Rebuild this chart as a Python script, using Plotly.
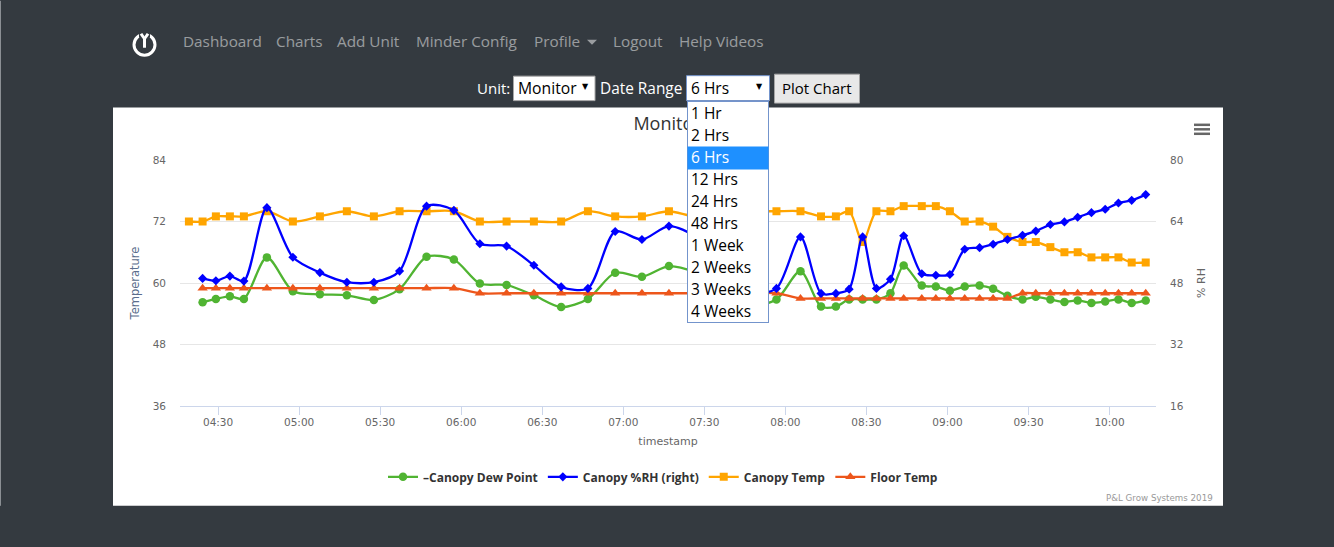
import plotly.graph_objects as go

# ---- data ----
times_clock = [
    "04:19:12","04:24:16","04:29:11","04:34:22","04:39:33","04:48:04","04:57:41","05:07:41","05:17:40","05:27:40",
    "05:37:11","05:47:10","05:57:17","06:06:54","06:16:48","06:26:54","06:37:00","06:46:54","06:57:00","07:06:54",
    "07:16:54","07:26:54","07:36:48","07:46:48","07:56:42","08:05:36","08:13:12","08:18:42","08:23:36","08:28:36",
    "08:33:42","08:38:54","08:43:48","08:50:30","08:55:42","09:00:54","09:06:24","09:11:54","09:16:54","09:22:12",
    "09:27:48","09:32:42","09:38:06","09:43:18","09:48:12","09:53:18","09:58:24","10:03:18","10:08:12","10:13:24"]
canopy_temp = [72,72,73,73,73,74,72,73,74,73,74,74,74,72,72,72,72,74,73,73,74,73,74,74,
               74,74,73,73,74,68,74,74,75,75,75,74,72,72,71,69,68,68,67,66,66,65,65,65,64,64]
dew_point = [56.25,56.9,57.4,56.9,65,58.4,57.8,57.6,56.7,58.8,65.1,64.6,59.9,59.6,
             57.6,55.3,56.9,62,61.2,63.3,62.1,59.6,55.7,
             56.8,62.3,55.4,55.4,56.8,56.8,56.8,58,63.4,59.5,59.3,58.5,59.3,59.5,58.9,57.5,
             56.8,57.3,56.8,56.3,56.6,56.1,56.4,56.8,56.1,56.6]
canopy_rh = [49.2,48.6,49.8,48.5,67.6,54.7,50.7,48.2,48.2,51.1,68,66.9,58.2,57.6,
             52.6,47,46.6,61.4,59.3,62.8,60,52,45.5,
             46.6,60,45.3,45.3,46.4,60,46.6,49,60.3,50.4,50,50.2,56.8,57.2,58.1,59.3,
             60.4,61.5,63.2,63.9,65.1,66.3,67.2,68.8,69.5,71]
floor_temp = [59,59,59,59,59,59,59,59,59,59,59,59,58,58,58,58,58,58,58,58,58,58,58,
              58,57,57,57,57,57,57,57,57,57,57,57,57,57,57,57,58,58,58,58,58,58,58,58,58,58]
nav_labels = ["Dashboard","Charts","Add Unit","Minder Config","Profile","Logout","Help Videos"]
range_options = ["1 Hr","2 Hrs","6 Hrs","12 Hrs","24 Hrs","48 Hrs","1 Week","2 Weeks","3 Weeks","4 Weeks"]
left_ticks = [36,48,60,72,84]
right_ticks = [16,32,48,64,80]
time_ticks = ["04:30","05:00","05:30","06:00","06:30","07:00","07:30","08:00","08:30","09:00","09:30","10:00"]

DAY = "2019-03-01 "
times = [DAY + t for t in times_clock]
tick_vals = [DAY + t + ":00" for t in time_ticks]

# ---- page geometry ----
W, H = 1334, 547
PL, PR, PT, PB = 180, 1156, 159.5, 406
DARK = "#343a40"
CHART_FONT = "DejaVu Sans"
UI_FONT = "Open Sans"

def px(x): return (x - PL) / (PR - PL)
def py(y): return (PB - y) / (PB - PT)

def rect(x0, y0, x1, y1, fill, line=None, lw=1, layer="below"):
    return dict(type="rect", xref="paper", yref="paper", x0=px(x0), x1=px(x1), y0=py(y0), y1=py(y1),
                fillcolor=fill, line=dict(color=line or fill, width=lw if line else 0), layer=layer)

def seg(x0, y0, x1, y1, color, lw, layer="above"):
    return dict(type="line", xref="paper", yref="paper", x0=px(x0), x1=px(x1), y0=py(y0), y1=py(y1),
                line=dict(color=color, width=lw), layer=layer)

def label(x, y, text, size=16, color="#000", anchor="left", font=UI_FONT, **kw):
    return dict(xref="paper", yref="paper", x=px(x), y=py(y), text=text, showarrow=False,
                xanchor=anchor, yanchor="middle", font=dict(family=font, size=size, color=color), **kw)

caret = dict(type="path", xref="paper", yref="paper",
             path=f"M {px(587)} {py(39)} L {px(597)} {py(39)} L {px(592)} {py(44)} Z",
             fillcolor="rgba(255,255,255,0.5)", line=dict(width=0), layer="below")

shapes = [
    rect(113, 107, 1223, 506, "#ffffff"),
    seg(0.5, 0, 0.5, 506, "#8b8f94", 1, "below"),
    # logo
    dict(type="circle", xref="paper", yref="paper", x0=px(134), x1=px(155), y0=py(33.5), y1=py(54.5),
         line=dict(color="#ffffff", width=3), fillcolor="rgba(0,0,0,0)", layer="below"),
    rect(139, 30, 150, 37, DARK, layer="below"),
    seg(144.5, 38, 144.5, 47, "#ffffff", 3),
    seg(144.5, 38, 141, 33, "#ffffff", 3),
    seg(144.5, 38, 148, 33, "#ffffff", 3),
    caret,
    # form controls
    rect(513.5, 75.5, 595, 100, "#ffffff", "#a9a9a9"),
    rect(686.5, 75, 769.5, 100, "#ffffff", "#7394cc"),
    rect(774.5, 73.5, 859.5, 102.5, "#e8e8e8", "#a6a6a6"),
    # hamburger
    rect(1194, 123, 1210, 125.5, "#666666", layer="above"),
    rect(1194, 127.5, 1210, 130, "#666666", layer="above"),
    rect(1194, 132, 1210, 134.5, "#666666", layer="above"),
]

nav_x = [181, 274, 335, 414, 532, 611, 677]
annotations = [label(x, 40.5, t, 15.3, "rgba(255,255,255,0.5)") for x, t in zip(nav_x, nav_labels)]
annotations += [
    label(475, 87.5, "Unit:", 15, "#ffffff"),
    label(516, 87.5, "Monitor", 15.7, "#000000"),
    label(585, 86, "▼", 8, "#000000", "center", "DejaVu Sans"),
    label(598, 87.5, "Date Range", 15.4, "#ffffff"),
    label(689, 87.5, "6 Hrs", 15.5, "#000000"),
    label(759, 86, "▼", 8, "#000000", "center", "DejaVu Sans"),
    label(817, 87.5, "Plot Chart", 15, "#000000", "center"),
    label(1215, 498, "P&L Grow Systems 2019", 8.7, "#999999", "right", CHART_FONT),
    # dropdown list, painted over the chart and its title
    dict(xref="paper", yref="paper", x=px(727.5), y=py(211.5), text=" ", showarrow=False,
         width=80, height=220, bgcolor="#ffffff", bordercolor="#7394cc", borderwidth=1, borderpad=0,
         xanchor="center", yanchor="middle"),
]
for i, opt in enumerate(range_options):
    yc = 112.5 + 22 * i
    if i == 2:
        annotations.append(dict(xref="paper", yref="paper", x=px(727.5), y=py(yc + 0.5), text=" ", showarrow=False,
                                width=80, height=22, bgcolor="#1e90ff", borderpad=0,
                                xanchor="center", yanchor="middle"))
    annotations.append(label(689, yc, opt, 15.5, "#ffffff" if i == 2 else "#000000"))

fig = go.Figure()
common = dict(mode="lines+markers", line_shape="spline")
fig.add_trace(go.Scatter(x=times[1:], y=dew_point, name="–Canopy Dew Point", yaxis="y", **common,
                         line=dict(color="#50B432", width=2.3, smoothing=0.8),
                         marker=dict(symbol="circle", size=8.5, color="#50B432")))
fig.add_trace(go.Scatter(x=times[1:], y=canopy_rh, name="Canopy %RH (right)", yaxis="y2", **common,
                         line=dict(color="#0000ff", width=2.3, smoothing=0.8),
                         marker=dict(symbol="diamond", size=7, color="#0000ff")))
fig.add_trace(go.Scatter(x=times, y=canopy_temp, name="Canopy Temp", yaxis="y", **common,
                         line=dict(color="#ffa500", width=2.3, smoothing=0.8),
                         marker=dict(symbol="square", size=8, color="#ffa500")))
fig.add_trace(go.Scatter(x=times[1:], y=floor_temp, name="Floor Temp", yaxis="y", **common,
                         line=dict(color="#ED561B", width=2.3, smoothing=0.8),
                         marker=dict(symbol="triangle-up", size=9, color="#ED561B")))

tick_font = dict(family=CHART_FONT, size=10.5, color="#666666")
title_font = dict(family=CHART_FONT, size=11, color="#666666")
fig.update_layout(
    width=W, height=H,
    margin=dict(l=PL, r=W - PR, t=PT, b=H - PB, pad=0, autoexpand=False),
    paper_bgcolor=DARK, plot_bgcolor="rgba(0,0,0,0)",
    title=dict(text="Monitor", x=667 / W, xref="container", xanchor="center", y=1 - 124 / H, yref="container",
               yanchor="middle", font=dict(family=UI_FONT, size=18, color="#333333")),
    xaxis=dict(type="date", range=[DAY + "04:15:54", DAY + "10:17:12"], tickvals=tick_vals, ticktext=time_ticks,
               showgrid=False, zeroline=False, showline=True, linecolor="#ccd6eb", linewidth=1,
               ticks="outside", ticklen=8, tickcolor="#ccd6eb", tickfont=tick_font, ticklabelstandoff=-2,
               title=dict(text="timestamp", font=title_font, standoff=10)),
    yaxis=dict(range=[36, 84], tickvals=left_ticks, showgrid=True, gridcolor="#e6e6e6", zeroline=False,
               showline=False, tickfont=tick_font, ticks="", ticklabelstandoff=13,
               title=dict(text="Temperature", font=dict(family=CHART_FONT, size=11.5, color="#5a6d8c"), standoff=10)),
    yaxis2=dict(range=[16, 80], tickvals=right_ticks, overlaying="y", side="right", showgrid=False, zeroline=False,
                showline=False, tickfont=tick_font, ticks="", ticklabelstandoff=13,
                title=dict(text="% RH", font=title_font, standoff=14)),
    legend=dict(orientation="h", x=px(663), xanchor="center", y=py(477), yanchor="middle", bgcolor="rgba(0,0,0,0)",
                font=dict(family=UI_FONT, size=12, color="#333333", weight="bold"), itemwidth=30, traceorder="normal"),
    shapes=shapes, annotations=annotations, showlegend=True,
)
fig.write_html("out.html", config=dict(displayModeBar=False),
               post_script="document.body.style.margin='0';document.body.style.overflow='hidden';document.body.style.background='#343a40';")
